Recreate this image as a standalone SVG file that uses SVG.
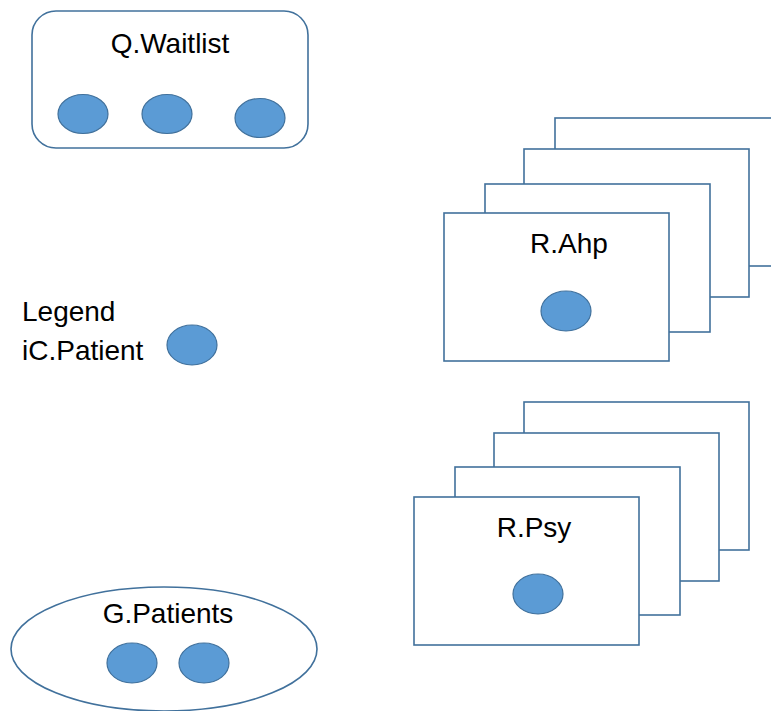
<svg xmlns="http://www.w3.org/2000/svg" width="771" height="711" viewBox="0 0 771 711">
  <style>
    .frame { fill: #FFFFFF; stroke: #41719C; stroke-width: 1.6; }
    .token { fill: #5B9BD5; stroke: #41719C; stroke-width: 1.2; }
    .label { font-family: "Liberation Sans", Arial, sans-serif; font-size: 28px; fill: #000000; }
    .mid { text-anchor: middle; }
  </style>
  <rect x="0" y="0" width="771" height="711" fill="#FFFFFF"/>

  <!-- Waiting queue with three queued patients -->
  <g id="q-waitlist">
    <rect class="frame" x="32" y="11" width="276" height="137" rx="24" ry="24"/>
    <text class="label mid" x="170" y="53">Q.Waitlist</text>
    <ellipse class="token" cx="83" cy="114" rx="25" ry="19.5"/>
    <ellipse class="token" cx="167" cy="114" rx="25" ry="19.5"/>
    <ellipse class="token" cx="260" cy="118" rx="25" ry="19.5"/>
  </g>

  <!-- Resource pool: allied health practitioners (stacked instances) -->
  <g id="r-ahp">
    <rect class="frame" x="555" y="118" width="225" height="148"/>
    <rect class="frame" x="524" y="149" width="225" height="148"/>
    <rect class="frame" x="485" y="184" width="225" height="148"/>
    <rect class="frame" x="444" y="213" width="225" height="148"/>
    <text class="label mid" x="569" y="253">R.Ahp</text>
    <ellipse class="token" cx="566" cy="311" rx="25" ry="20"/>
  </g>

  <!-- Legend -->
  <g id="legend">
    <text class="label" x="22" y="321">Legend</text>
    <text class="label" x="22" y="360">iC.Patient</text>
    <ellipse class="token" cx="192" cy="345" rx="25" ry="20"/>
  </g>

  <!-- Resource pool: psychologists (stacked instances) -->
  <g id="r-psy">
    <rect class="frame" x="524" y="402" width="225" height="148"/>
    <rect class="frame" x="494" y="433" width="225" height="148"/>
    <rect class="frame" x="455" y="467" width="225" height="148"/>
    <rect class="frame" x="414" y="497" width="225" height="148"/>
    <text class="label mid" x="534" y="537">R.Psy</text>
    <ellipse class="token" cx="538" cy="594" rx="25" ry="20"/>
  </g>

  <!-- Patient generator -->
  <g id="g-patients">
    <ellipse class="frame" cx="164" cy="649" rx="153" ry="62"/>
    <text class="label mid" x="168" y="623">G.Patients</text>
    <ellipse class="token" cx="132" cy="663" rx="25" ry="20"/>
    <ellipse class="token" cx="204" cy="663" rx="25" ry="20"/>
  </g>

  <g id="connectors"/>
</svg>
